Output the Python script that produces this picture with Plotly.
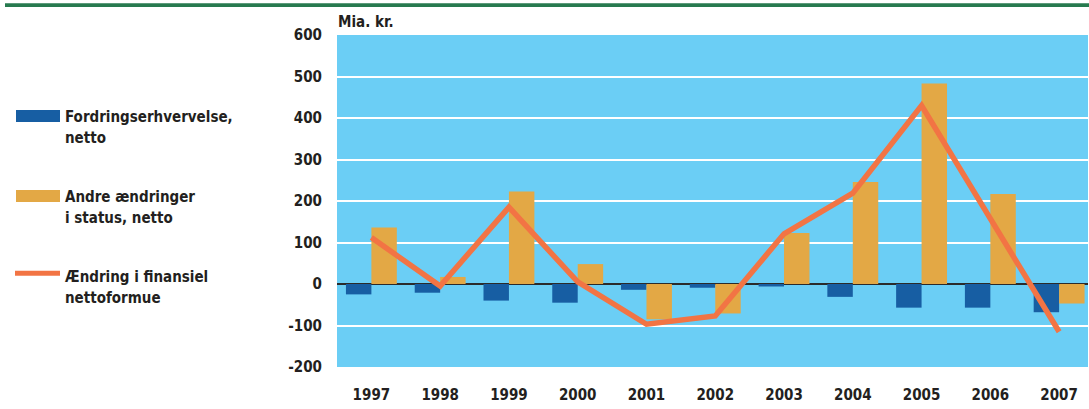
import plotly.graph_objects as go

years = ['1997', '1998', '1999', '2000', '2001', '2002', '2003', '2004', '2005', '2006', '2007']
fordring = [-25, -21, -40, -45, -14, -9, -6, -31, -57, -57, -68]
andre = [136, 17, 223, 48, -85, -71, 123, 246, 483, 217, -47]
endring = [112, -5, 185, 5, -97, -77, 121, 219, 430, 160, -115]
y_ticks = [-200, -100, 0, 100, 200, 300, 400, 500, 600]

names = ['Fordringserhvervelse,<br>netto', 'Andre ændringer<br>i status, netto',
         'Ændring i finansiel<br>nettoformue']

BLUE = '#175ea3'
ORANGE = '#e3a845'
LINE = '#f27444'
BG = '#6bcef5'
TXT = '#231f20'
FONT = 'DejaVu Sans Condensed, DejaVu Sans, sans-serif'
FS = 15

W, H = 1089, 409
L, R, T, B = 337, 1088, 35, 367


def px(x):
    return (x - L) / (R - L)


def py(y):
    return (B - y) / (B - T)


fig = go.Figure()
fig.add_trace(go.Bar(x=years, y=fordring, name=names[0], marker=dict(color=BLUE, line=dict(width=0))))
fig.add_trace(go.Bar(x=years, y=andre, name=names[1], marker=dict(color=ORANGE, line=dict(width=0))))
fig.add_trace(go.Scatter(x=years, y=endring, name=names[2], mode='lines',
                         line=dict(color=LINE, width=5.5)))

shapes = [
    # top green rule
    dict(type='rect', xref='paper', yref='paper', x0=px(5), x1=px(1089), y0=py(3.3), y1=py(7),
         fillcolor='#277a4f', line=dict(width=0), layer='above'),
    # legend swatches
    dict(type='rect', xref='paper', yref='paper', x0=px(16), x1=px(60), y0=py(110), y1=py(122),
         fillcolor=BLUE, line=dict(width=0)),
    dict(type='rect', xref='paper', yref='paper', x0=px(16), x1=px(60), y0=py(190), y1=py(202),
         fillcolor=ORANGE, line=dict(width=0)),
    dict(type='line', xref='paper', yref='paper', x0=px(15), x1=px(60), y0=py(273.3), y1=py(273.3),
         line=dict(color=LINE, width=5)),
]

legend_lines = [
    ('Fordringserhvervelse,', 116.7), ('netto', 138.3),
    ('Andre ændringer', 196.7), ('i status, netto', 218.3),
    ('Ændring i finansiel', 276.7), ('nettoformue', 298.0),
]
annotations = []
for txt, yc in legend_lines:
    annotations.append(dict(text=txt, xref='paper', yref='paper', x=px(63), y=py(yc),
                            xanchor='left', yanchor='middle', showarrow=False,
                            font=dict(family=FONT, size=FS, color=TXT, weight='bold')))
annotations.append(dict(text='Mia. kr.', xref='paper', yref='paper', x=px(336), y=py(22),
                        xanchor='left', yanchor='middle', showarrow=False,
                        font=dict(family=FONT, size=FS, color=TXT, weight='bold')))

fig.update_layout(
    width=W, height=H,
    margin=dict(l=L, r=W - R, t=T, b=H - B, pad=0),
    paper_bgcolor='white', plot_bgcolor=BG,
    barmode='group', bargap=0.26, bargroupgap=0,
    showlegend=False,
    shapes=shapes, annotations=annotations,
    font=dict(family=FONT, size=FS, color=TXT),
)
fig.update_xaxes(type='category', range=[-0.5, 10.42], showgrid=False, zeroline=False,
                 showline=False, ticks='', ticklabelstandoff=17,
                 tickfont=dict(family=FONT, size=FS, color=TXT, weight='bold'))
fig.update_yaxes(range=[-200, 600], tickvals=y_ticks, ticktext=[str(v) for v in y_ticks],
                 showgrid=True, gridcolor='white', gridwidth=2,
                 zeroline=True, zerolinecolor='#2b2b2b', zerolinewidth=2,
                 showline=False, ticks='', ticklabelstandoff=14,
                 tickfont=dict(family=FONT, size=FS, color=TXT, weight='bold'))

fig.write_html('out.html', config={'displayModeBar': False},
               post_script="document.body.style.margin='0';document.body.style.overflow='hidden';")
